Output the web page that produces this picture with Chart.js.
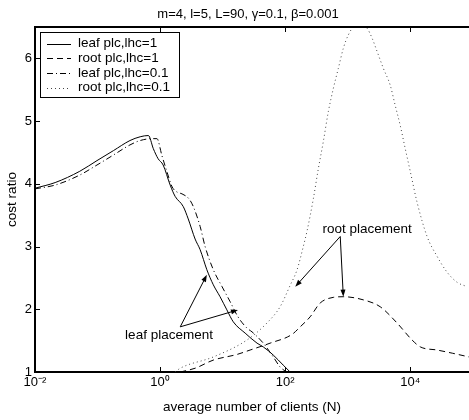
<!DOCTYPE html>
<html>
<head>
<meta charset="utf-8">
<script src="https://cdn.jsdelivr.net/npm/chart.js@4/dist/chart.umd.min.js"></script>
<style>
  html, body { margin: 0; padding: 0; background: #fff; }
  #wrap { width: 469px; height: 420px; }
</style>
</head>
<body>
<div id="wrap"><canvas id="costChart" width="469" height="420"></canvas></div>
<script>
// data (x = average number of clients N, y = cost ratio)
const titleText = 'm=4, l=5, L=90, γ=0.1, β=0.001';
const xTicks = [0.01, 1, 100, 10000];
const xTickLabels = ['10⁻²', '10⁰', '10²', '10⁴'];
const yTicks = [1, 2, 3, 4, 5, 6];

const leafHc1N = [0.01, 0.021, 0.052, 0.098, 0.18, 0.33, 0.48, 0.65, 0.78, 0.93, 1.12, 1.45, 1.74, 2.34, 2.82, 3.63, 4.37, 5.6, 7.1, 9.1, 11.7, 14.8, 22.9, 35.5, 44.7, 64.6, 93, 120];
const leafHc1Cost = [3.93, 4.02, 4.2, 4.37, 4.53, 4.69, 4.75, 4.77, 4.56, 4.40, 4.3, 3.98, 3.80, 3.64, 3.44, 3.12, 2.95, 2.63, 2.39, 2.2, 1.99, 1.80, 1.62, 1.46, 1.40, 1.27, 1.11, 1.0];

const rootHc1N = [2.1, 3.63, 7.1, 17, 27.5, 57.5, 129, 174, 251, 363, 589, 851, 1780, 3310, 6170, 10700, 14500, 27000, 47000, 87000];
const rootHc1Cost = [1.0, 1.06, 1.19, 1.28, 1.35, 1.46, 1.6, 1.72, 1.88, 2.1, 2.19, 2.2, 2.15, 2.04, 1.78, 1.51, 1.40, 1.35, 1.30, 1.24];

const leafHc01N = [0.01, 0.021, 0.052, 0.098, 0.18, 0.33, 0.48, 0.74, 0.89, 1.07, 1.29, 1.56, 1.86, 2.24, 2.9, 3.39, 4.37, 5.25, 7.1, 9.8, 13.2, 17.6, 24.5, 29.5, 44.7, 64.6, 83, 105];
const leafHc01Cost = [3.92, 3.98, 4.14, 4.3, 4.46, 4.62, 4.69, 4.72, 4.72, 4.45, 4.19, 3.95, 3.87, 3.84, 3.76, 3.64, 3.32, 3.0, 2.63, 2.36, 2.12, 1.88, 1.70, 1.64, 1.46, 1.24, 1.08, 1.0];

const rootHc01N = [1.74, 2.1, 7.1, 24.5, 51, 83, 120, 155, 195, 224, 282, 339, 407, 490, 589, 708, 851, 1020, 1320, 1700, 2040, 2460, 2950, 3720, 4790, 5750, 6920, 8320, 10000, 12900, 18600, 27000, 38900, 56200, 81300];
const rootHc01Cost = [1.0, 1.06, 1.24, 1.51, 1.78, 2.04, 2.38, 2.63, 3.0, 3.25, 3.76, 4.24, 4.67, 5.15, 5.52, 5.84, 6.16, 6.37, 6.52, 6.52, 6.48, 6.32, 6.11, 5.84, 5.57, 5.25, 4.93, 4.56, 4.2, 3.7, 3.16, 2.84, 2.59, 2.43, 2.36];

const seriesNames = ['leaf plc,lhc=1', 'root plc,lhc=1', 'leaf plc,lhc=0.1', 'root plc,lhc=0.1'];

// text notes with arrows, in data coordinates
const notes = [
    { text: 'leaf placement', at: [1.39, 1.59], from: [2.1, 1.72], to: [[5.6, 2.55], [17.6, 1.99]] },
    { text: 'root placement', at: [2040, 3.28], from: [760, 3.16], to: [[145, 2.36], [851, 2.2]] }
];

const FONT = "'Liberation Sans', Arial, Helvetica, sans-serif";
Chart.defaults.font.family = FONT;
Chart.defaults.color = '#000';

const toPoints = (xs, ys) => xs.map((x, i) => ({ x: x, y: ys[i] }));

const styles = [
    { color: '#000', dash: [] },
    { color: '#000', dash: [6, 4] },
    { color: '#000', dash: [6, 3, 1, 3] },
    { color: '#444', dash: [1, 3] }
];

function drawArrow(ctx, x0, y0, x1, y1) {
    const ang = Math.atan2(y1 - y0, x1 - x0);
    const len = 7, half = 2.5;
    ctx.beginPath();
    ctx.moveTo(x0, y0);
    ctx.lineTo(x1 - Math.cos(ang) * len * 0.8, y1 - Math.sin(ang) * len * 0.8);
    ctx.stroke();
    ctx.beginPath();
    ctx.moveTo(x1, y1);
    ctx.lineTo(x1 - Math.cos(ang) * len - Math.sin(ang) * half, y1 - Math.sin(ang) * len + Math.cos(ang) * half);
    ctx.lineTo(x1 - Math.cos(ang) * len + Math.sin(ang) * half, y1 - Math.sin(ang) * len - Math.cos(ang) * half);
    ctx.closePath();
    ctx.fill();
}

const extras = {
    id: 'extras',
    afterDatasetsDraw(chart) {
        const ctx = chart.ctx;
        const area = chart.chartArea;
        const xs = chart.scales.x, ys = chart.scales.y;
        ctx.save();

        // title
        ctx.fillStyle = '#000';
        ctx.font = '13px ' + FONT;
        ctx.textAlign = 'center';
        ctx.textBaseline = 'middle';
        ctx.fillText(titleText, (area.left + area.right) / 2 - 4, 14);

        // top border
        ctx.strokeStyle = '#000';
        ctx.lineWidth = 2;
        ctx.beginPath();
        ctx.moveTo(area.left, area.top);
        ctx.lineTo(area.right, area.top);
        ctx.stroke();

        // inward tick marks
        ctx.lineWidth = 1;
        ctx.beginPath();
        xTicks.forEach(v => {
            const px = Math.round(xs.getPixelForValue(v)) + 0.5;
            ctx.moveTo(px, area.bottom);
            ctx.lineTo(px, area.bottom - 5);
            ctx.moveTo(px, area.top);
            ctx.lineTo(px, area.top + 5);
        });
        yTicks.forEach(v => {
            const py = Math.round(ys.getPixelForValue(v)) + 0.5;
            ctx.moveTo(area.left, py);
            ctx.lineTo(area.left + 5, py);
        });
        ctx.stroke();

        // notes
        ctx.font = '13.5px ' + FONT;
        ctx.fillStyle = '#000';
        ctx.strokeStyle = '#000';
        ctx.lineWidth = 1;
        notes.forEach(n => {
            ctx.fillText(n.text, xs.getPixelForValue(n.at[0]), ys.getPixelForValue(n.at[1]));
            const fx = xs.getPixelForValue(n.from[0]), fy = ys.getPixelForValue(n.from[1]);
            n.to.forEach(t => drawArrow(ctx, fx, fy, xs.getPixelForValue(t[0]), ys.getPixelForValue(t[1])));
        });

        // legend box
        const bx = area.left + 5, by = area.top + 5, bw = 139, bh = 65;
        ctx.fillStyle = '#fff';
        ctx.fillRect(bx, by, bw, bh);
        ctx.strokeStyle = '#000';
        ctx.lineWidth = 1;
        ctx.strokeRect(bx + 0.5, by + 0.5, bw, bh);
        ctx.textAlign = 'left';
        ctx.textBaseline = 'middle';
        chart.data.datasets.forEach((ds, i) => {
            const ly = by + 11.5 + i * 14.7;
            ctx.strokeStyle = ds.borderColor;
            ctx.setLineDash(ds.borderDash);
            ctx.beginPath();
            ctx.moveTo(bx + 7, Math.round(ly) + 0.5);
            ctx.lineTo(bx + 31, Math.round(ly) + 0.5);
            ctx.stroke();
            ctx.setLineDash([]);
            ctx.fillStyle = '#000';
            ctx.fillText(ds.label, bx + 38, ly);
        });
        ctx.restore();
    }
};

const series = [
    [leafHc1N, leafHc1Cost],
    [rootHc1N, rootHc1Cost],
    [leafHc01N, leafHc01Cost],
    [rootHc01N, rootHc01Cost]
];

new Chart(document.getElementById('costChart'), {
    type: 'line',
    data: {
        datasets: series.map((s, i) => ({
            label: seriesNames[i],
            data: toPoints(s[0], s[1]),
            borderColor: styles[i].color,
            borderDash: styles[i].dash,
            borderWidth: 1,
            pointRadius: 0,
            fill: false,
            cubicInterpolationMode: 'monotone'
        }))
    },
    options: {
        responsive: false,
        animation: false,
        layout: { padding: { top: 27, right: 0, left: 0, bottom: 0 } },
        plugins: {
            legend: { display: false },
            title: { display: false },
            tooltip: { enabled: false }
        },
        scales: {
            x: {
                type: 'logarithmic',
                min: 0.01,
                max: 87000,
                grid: { display: false, drawTicks: false },
                border: { display: true, color: '#000', width: 2 },
                afterBuildTicks: scale => { scale.ticks = xTicks.map(v => ({ value: v })); },
                afterFit: scale => { scale.height = 48; },
                ticks: {
                    font: { size: 13 },
                    color: '#000',
                    padding: 3,
                    maxRotation: 0,
                    autoSkip: false,
                    callback: v => xTickLabels[xTicks.indexOf(v)]
                },
                title: {
                    display: true,
                    text: 'average number of clients (N)',
                    font: { size: 13.5 },
                    color: '#000',
                    padding: { top: 0, bottom: 5 }
                }
            },
            y: {
                min: 1,
                max: 6.5,
                grid: { display: false, drawTicks: false },
                border: { display: true, color: '#000', width: 2 },
                afterBuildTicks: scale => { scale.ticks = yTicks.map(v => ({ value: v })); },
                afterFit: scale => { scale.width = 35; },
                ticks: {
                    font: { size: 13 },
                    color: '#000',
                    padding: 3
                },
                title: {
                    display: true,
                    text: 'cost ratio',
                    font: { size: 13.5 },
                    color: '#000',
                    padding: { top: 4, bottom: 0 }
                }
            }
        }
    },
    plugins: [extras]
});
</script>
</body>
</html>
